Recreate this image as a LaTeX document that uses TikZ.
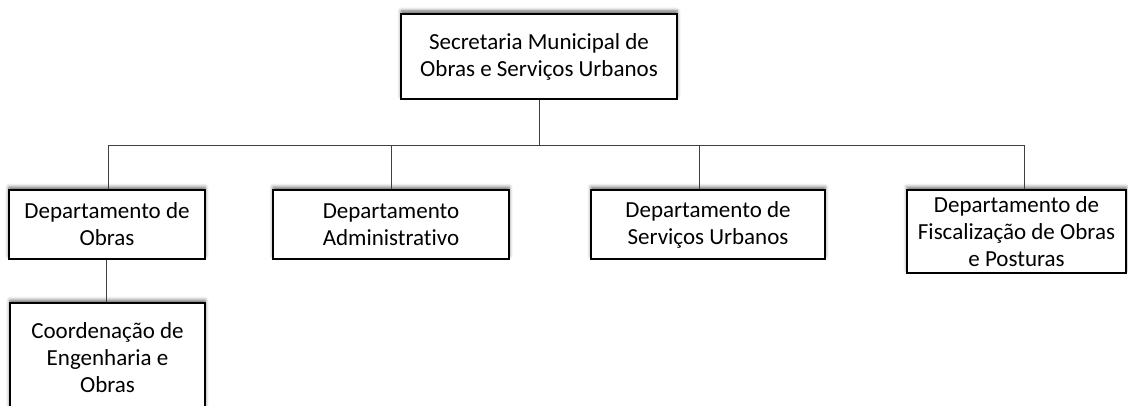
\documentclass[tikz,border=0pt]{standalone}
\usepackage{fontspec}
\setmainfont{Carlito}[Ligatures=NoCommon]
\usetikzlibrary{shadows.blur}
\begin{document}
\begin{tikzpicture}[x=1pt,y=-1pt,
  orgbox/.style={draw=black,line width=1.3pt,fill=white,align=center,inner sep=0pt,
    font=\fontsize{23}{27}\selectfont,
    blur shadow={shadow xshift=0pt,shadow yshift=3pt,shadow blur radius=3.5pt,shadow opacity=60}},
  link/.style={draw=black!75,line width=0.9pt}]
\useasboundingbox (0,0) rectangle (1128,406);
\node[orgbox,minimum width=276pt,minimum height=85pt] (top) at (539,56.5) {Secretaria Municipal de\\Obras e Serviços Urbanos};
\node[orgbox,minimum width=196pt,minimum height=69pt] (obras) at (107,224.5) {Departamento de\\Obras};
\node[orgbox,minimum width=236pt,minimum height=69pt] (adm) at (391,224.5) {Departamento\\Administrativo};
\node[orgbox,minimum width=234pt,minimum height=69pt] (serv) at (708,224.5) {Departamento de\\Serviços Urbanos};
\node[orgbox,minimum width=219pt,minimum height=83pt] (fisc) at (1016.5,231.5) {Departamento de\\Fiscalização de Obras\\e Posturas};
\node[orgbox,minimum width=195pt,minimum height=110pt] (coord) at (107.5,358) {Coordenação de\\Engenharia e\\Obras};
\coordinate (bar) at (539,145);
\draw[link] (top.south) -- (bar);
\draw[link] ([xshift=1pt]obras.north) |- (bar);
\draw[link] (adm.north) |- (bar);
\draw[link] ([xshift=-9pt]serv.north) |- (bar);
\draw[link] ([xshift=7.5pt]fisc.north) |- (bar);
\draw[link] ([xshift=-1pt]obras.south) -- ([xshift=-1.5pt]coord.north);
\end{tikzpicture}
\end{document}
